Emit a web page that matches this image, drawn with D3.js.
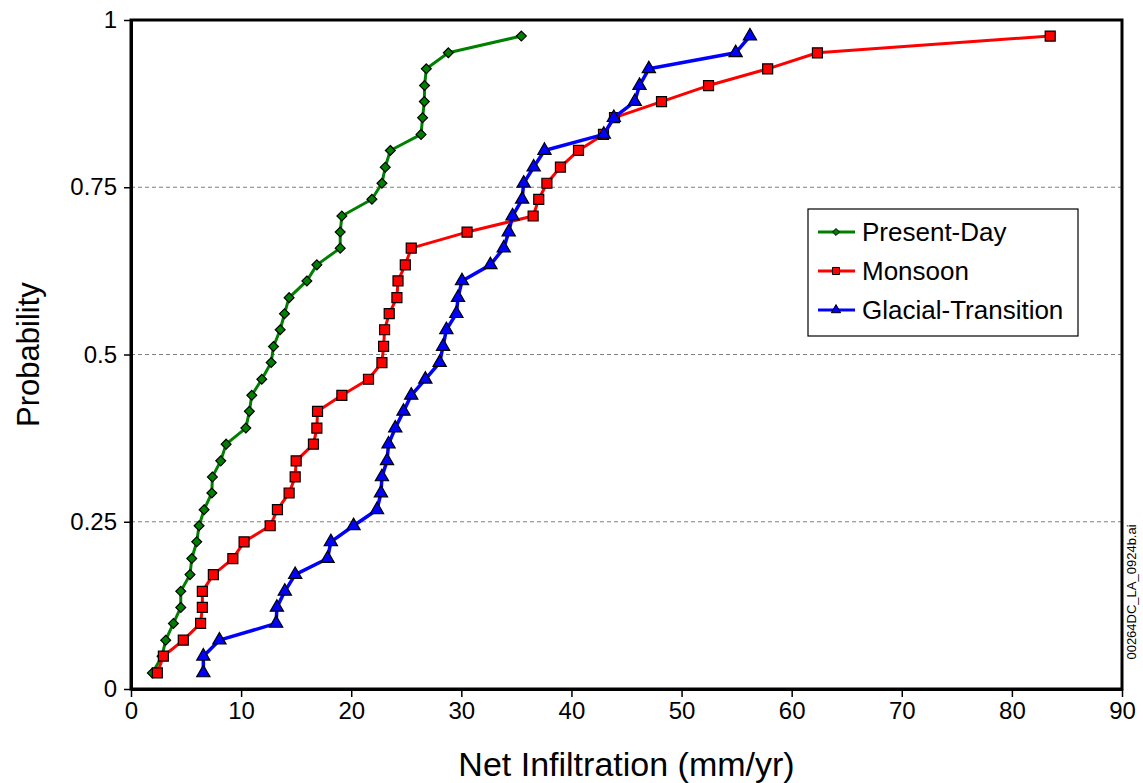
<!DOCTYPE html>
<html>
<head>
<meta charset="utf-8">
<script src="https://cdn.jsdelivr.net/npm/d3@7"></script>
<style>
  body { margin: 0; background: #fff; }
  svg { font-family: "Liberation Sans", Arial, sans-serif; }
</style>
</head>
<body>
<svg id="chart" width="1143" height="783"></svg>
<script>
// plotting positions (i / 41)
const probability = [0.024, 0.049, 0.073, 0.098, 0.122, 0.146, 0.171, 0.195, 0.220, 0.244,
    0.268, 0.293, 0.317, 0.341, 0.366, 0.390, 0.415, 0.439, 0.463, 0.488,
    0.512, 0.537, 0.561, 0.585, 0.610, 0.634, 0.659, 0.683, 0.707, 0.732,
    0.756, 0.780, 0.805, 0.829, 0.854, 0.878, 0.902, 0.927, 0.951, 0.976];

const presentDay = [1.94, 2.82, 3.15, 3.85, 4.52, 4.52, 5.36, 5.52, 5.97, 6.18,
    6.64, 7.34, 7.39, 8.15, 8.64, 10.43, 10.75, 10.97, 11.88, 12.73,
    12.94, 13.55, 13.94, 14.36, 15.97, 16.88, 19.0, 19.0, 19.15, 21.88,
    22.79, 23.09, 23.55, 26.34, 26.48, 26.64, 26.66, 26.82, 28.82, 35.45];

const monsoon = [2.39, 2.94, 4.75, 6.32, 6.48, 6.48, 7.48, 9.25, 10.27, 12.64,
    13.3, 14.36, 14.91, 15.0, 16.57, 16.88, 16.94, 19.15, 21.57, 22.79,
    22.94, 23.03, 23.45, 24.15, 24.25, 24.91, 25.45, 30.52, 36.52, 37.03,
    37.77, 39.0, 40.64, 42.91, 43.91, 48.18, 52.45, 57.82, 62.34, 83.48];

const glacialTransition = [6.57, 6.57, 8.03, 13.18, 13.25, 13.97, 14.91, 17.85, 18.15, 20.21,
    22.34, 22.7, 22.79, 23.25, 23.39, 24.0, 24.75, 25.45, 26.73, 28.03,
    28.34, 28.64, 29.55, 29.7, 30.06, 32.64, 33.85, 34.3, 34.65, 35.52,
    35.66, 36.57, 37.55, 42.94, 43.85, 45.75, 46.18, 47.03, 54.91, 56.21];

const xTicks = [0, 10, 20, 30, 40, 50, 60, 70, 80, 90];
const yTicks = [0, 0.25, 0.5, 0.75, 1];
const yTickLabels = ['0', '0.25', '0.5', '0.75', '1'];

const series = [
    {name: 'Present-Day', values: presentDay, color: '#008000', symbol: d3.symbolDiamond2, size: 62, width: 3},
    {name: 'Monsoon', values: monsoon, color: '#ff0000', symbol: d3.symbolSquare, size: 100, width: 3},
    {name: 'Glacial-Transition', values: glacialTransition, color: '#0000ff', symbol: d3.symbolTriangle, size: 76, width: 3.5}
];

const margin = {top: 20, right: 21, bottom: 94, left: 131};
const width = 1143 - margin.left - margin.right;
const height = 783 - margin.top - margin.bottom;

const svg = d3.select('#chart');
const g = svg.append('g').attr('transform', `translate(${margin.left},${margin.top})`);

const x = d3.scaleLinear().domain([0, 90]).range([0, width]);
const y = d3.scaleLinear().domain([0, 1]).range([height, 0]);

// dashed grid at the inner y ticks
g.selectAll('.grid')
    .data(yTicks.filter((d) => d > 0 && d < 1))
    .enter()
    .append('line')
    .attr('x1', 0)
    .attr('x2', width)
    .attr('y1', (d) => y(d))
    .attr('y2', (d) => y(d))
    .attr('stroke', '#808080')
    .attr('stroke-width', 1)
    .attr('stroke-dasharray', '4,3');

// frame
g.append('rect')
    .attr('width', width)
    .attr('height', height)
    .attr('fill', 'none')
    .attr('stroke', '#000')
    .attr('stroke-width', 3);

const xAxis = g.append('g')
    .attr('transform', `translate(0,${height})`)
    .call(d3.axisBottom(x).tickValues(xTicks).tickSize(8).tickSizeOuter(0).tickPadding(5));

const yAxis = g.append('g')
    .call(d3.axisLeft(y).tickValues(yTicks).tickFormat((d, i) => yTickLabels[i])
        .tickSize(7).tickSizeOuter(0).tickPadding(7));

[xAxis, yAxis].forEach((a) => {
    a.select('.domain').attr('stroke-width', 3);
    a.selectAll('.tick line').attr('stroke-width', 1.5);
    a.selectAll('.tick text')
        .attr('font-size', 24)
        .attr('fill', '#000')
        .attr('font-family', '"Liberation Sans", Arial, sans-serif');
});

const line = d3.line()
    .x((d) => x(d[0]))
    .y((d) => y(d[1]));

series.forEach((s) => {
    const pts = s.values.map((v, i) => [v, probability[i]]);

    g.append('path')
        .datum(pts)
        .attr('fill', 'none')
        .attr('stroke', s.color)
        .attr('stroke-width', s.width)
        .attr('stroke-linejoin', 'round')
        .attr('d', line);

    g.selectAll(null)
        .data(pts)
        .enter()
        .append('path')
        .attr('transform', (d) => `translate(${x(d[0])},${y(d[1])})`)
        .attr('d', d3.symbol().type(s.symbol).size(s.size))
        .attr('fill', s.color)
        .attr('stroke', '#000')
        .attr('stroke-width', 1.2);
});

// legend
const legend = svg.append('g').attr('transform', 'translate(808,209)');
legend.append('rect')
    .attr('width', 270)
    .attr('height', 127)
    .attr('fill', '#fff')
    .attr('stroke', '#000')
    .attr('stroke-width', 1.2);

const rows = legend.selectAll('.row')
    .data(series)
    .enter()
    .append('g')
    .attr('transform', (d, i) => `translate(0,${23 + i * 39})`);

rows.append('line')
    .attr('x1', 10)
    .attr('x2', 47)
    .attr('stroke', (d) => d.color)
    .attr('stroke-width', 3);

rows.append('path')
    .attr('transform', 'translate(28,0)')
    .attr('d', (d) => d3.symbol().type(d.symbol).size(d.size * 0.5)())
    .attr('fill', (d) => d.color)
    .attr('stroke', '#000')
    .attr('stroke-width', 1);

rows.append('text')
    .attr('x', 54)
    .attr('dy', '0.35em')
    .attr('font-size', 26)
    .text((d) => d.name);

// axis titles
svg.append('text')
    .attr('x', margin.left + width / 2)
    .attr('y', 776)
    .attr('text-anchor', 'middle')
    .attr('font-size', 34)
    .text('Net Infiltration (mm/yr)');

svg.append('text')
    .attr('transform', `translate(39,${margin.top + height / 2}) rotate(-90)`)
    .attr('text-anchor', 'middle')
    .attr('font-size', 31)
    .text('Probability');

// file tag along the right edge
svg.append('text')
    .attr('transform', 'translate(1136,592) rotate(-90)')
    .attr('text-anchor', 'middle')
    .attr('font-size', 13)
    .text('00264DC_LA_0924b.ai');
</script>
</body>
</html>
